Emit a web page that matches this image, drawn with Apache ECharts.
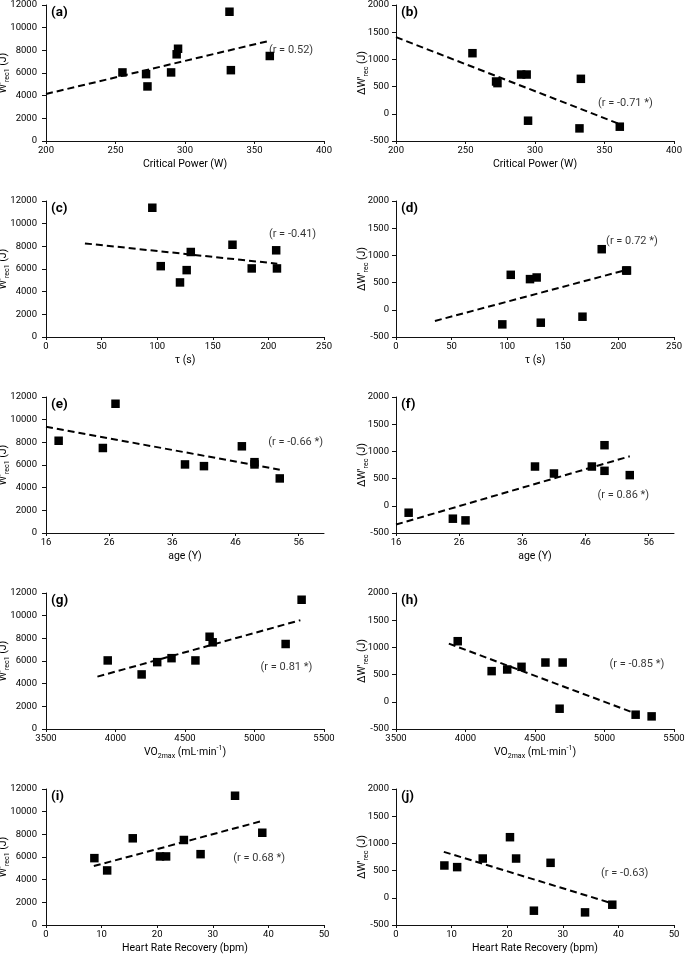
<!DOCTYPE html>
<html>
<head>
<meta charset="utf-8">
<script src="https://cdn.jsdelivr.net/npm/echarts@6/dist/echarts.min.js"></script>
<style>
  html, body { margin: 0; padding: 0; background: #fff; }
  #chart { width: 685px; height: 955px; }
</style>
</head>
<body>
<div id="chart"></div>
<script>
// same 9 subjects in every panel (order kept across arrays)
const criticalPower = [255, 272, 273, 290, 294, 295, 332, 333, 361];
const tau = [185, 126.5, 120.5, 207.7, 207, 167.7, 95.6, 103.2, 130.2];
const age = [49, 41, 53, 38, 47, 18, 27, 49, 25];
const vo2max = [3944, 4300, 4188, 4575, 4699, 4677, 5339, 4403, 5224];
const hrRecovery = [20.5, 8.7, 11, 21.6, 15.6, 38.9, 34, 27.8, 24.8];
const wRec1 = [6050, 5900, 4815, 6050, 7650, 8140, 11405, 6250, 7500];
const deltaWrec = [1114, 594, 564, 722, 722, -127, -268, 643, -237];

// dashed trend lines, end points
const trendA = [[200, 4150], [361, 8850]];
const trendB = [[200, 1410], [361, -190]];
const trendC = [[35, 8260], [208, 6470]];
const trendD = [[35, -205], [208, 738]];
const trendE = [[16, 9380], [53, 5580]];
const trendF = [[16, -345], [53, 910]];
const trendG = [[3870, 4620], [5330, 9600]];
const trendH = [[3880, 1070], [5240, -230]];
const trendI = [[8.6, 5200], [38.8, 9170]];
const trendJ = [[8.6, 845], [38.8, -100]];

const panelTags = ['(a)', '(b)', '(c)', '(d)', '(e)', '(f)', '(g)', '(h)', '(i)', '(j)'];
const rTexts = ['(r = 0.52)', '(r = -0.71 *)', '(r = -0.41)', '(r = 0.72 *)', '(r = -0.66 *)',
  '(r = 0.86 *)', '(r = 0.81 *)', '(r = -0.85 *)', '(r = 0.68 *)', '(r = -0.63)'];
// where each r text starts (data units of its panel)
const rSpots = [[360, 8040], [345, 200], [200, 9070], [188.5, 1268], [51.1, 7980],
  [47.8, 192], [5040, 5470], [5032, 683], [33.6, 5850], [36.8, 457]];

const ageTicks = [16, 26, 36, 46, 56];

const FONT = 'Roboto';
const rich = {
  t: { fontSize: 10.5, lineHeight: 15, fontFamily: FONT, color: '#000' },
  sub: { fontSize: 7, lineHeight: 7, verticalAlign: 'bottom', fontFamily: FONT, color: '#000' },
  sup: { fontSize: 7, lineHeight: 7, verticalAlign: 'top', fontFamily: FONT, color: '#000' }
};

const rows = [
  { name: '{t|Critical Power (W)}', min: 200, max: 400, interval: 50, x: criticalPower, trends: [trendA, trendB] },
  { name: '{t|τ (s)}', min: 0, max: 250, interval: 50, x: tau, trends: [trendC, trendD] },
  { name: '{t|age (Y)}', min: 16, max: 60, ticks: ageTicks, x: age, trends: [trendE, trendF] },
  { name: '{t|VO}{sub|2max}{t| (mL·min}{sup|-1}{t|)}', min: 3500, max: 5500, interval: 500, x: vo2max, trends: [trendG, trendH] },
  { name: '{t|Heart Rate Recovery (bpm)}', min: 0, max: 50, interval: 10, x: hrRecovery, trends: [trendI, trendJ] }
];
const cols = [
  { name: "{t|W'}{sub|rec1}{t| (J)}", min: 0, max: 12000, interval: 2000, y: wRec1, left: 46, gap: 35, margin: 9 },
  { name: "{t|ΔW'}{sub|rec}{t| (J)}", min: -500, max: 2000, interval: 500, y: deltaWrec, left: 396, gap: 26, margin: 7 }
];
const rowTop = [5, 201, 397, 593, 789];

const plain = v => String(v);

const grid = [], xAxis = [], yAxis = [], series = [], title = [];

rows.forEach((row, ri) => {
  cols.forEach((col, ci) => {
    const k = ri * 2 + ci;
    grid.push({ left: col.left, top: rowTop[ri], width: 278, height: 136, outerBoundsMode: 'none' });
    const xa = {
      type: 'value', gridIndex: k, min: row.min, max: row.max,
      name: row.name, nameLocation: 'middle', nameGap: 16, nameMoveOverlap: false,
      nameTextStyle: { rich: rich },
      axisLine: { onZero: false, lineStyle: { color: '#111', width: 1 } },
      axisTick: { show: true, length: 3, inside: false, lineStyle: { color: '#111' } },
      axisLabel: { fontFamily: FONT, fontSize: 9.5, color: '#000', margin: 5, formatter: plain },
      splitLine: { show: false }
    };
    if (row.interval) xa.interval = row.interval;
    if (row.ticks) {
      xa.axisLabel.customValues = row.ticks;
      xa.axisTick.customValues = row.ticks;
    }
    xAxis.push(xa);
    yAxis.push({
      type: 'value', gridIndex: k, min: col.min, max: col.max, interval: col.interval,
      name: col.name, nameLocation: 'middle', nameGap: col.gap, nameRotate: 90, nameMoveOverlap: false,
      nameTextStyle: { rich: rich },
      axisLine: { show: true, onZero: false, lineStyle: { color: '#111', width: 1 } },
      axisTick: { show: true, length: 4, lineStyle: { color: '#111' } },
      axisLabel: { fontFamily: FONT, fontSize: 9.5, color: '#000', margin: col.margin, formatter: plain },
      splitLine: { show: false }
    });
    series.push({
      type: 'line', xAxisIndex: k, yAxisIndex: k, data: row.trends[ci],
      symbol: 'none', silent: true, z: 2,
      lineStyle: { color: '#000', width: 2, type: [7, 4] }
    });
    series.push({
      type: 'scatter', xAxisIndex: k, yAxisIndex: k, symbol: 'rect', symbolSize: 8.5, z: 3,
      itemStyle: { color: '#000', opacity: 1 },
      data: row.x.map((v, i) => [v, col.y[i]])
    });
    series.push({
      type: 'scatter', xAxisIndex: k, yAxisIndex: k, symbolSize: 1, silent: true, z: 4,
      itemStyle: { color: 'rgba(0,0,0,0)' },
      label: {
        show: true, position: 'right', distance: 0, fontFamily: FONT, fontSize: 11, color: '#000',
        formatter: () => rTexts[k]
      },
      data: [rSpots[k]]
    });
    title.push({
      text: panelTags[k], left: col.left + 5, top: rowTop[ri] + 1, padding: 0,
      textStyle: { fontFamily: FONT, fontSize: 13.5, fontWeight: 'bold', color: '#000' }
    });
  });
});

const chart = echarts.init(document.getElementById('chart'), null, { renderer: 'canvas' });
chart.setOption({
  animation: false,
  backgroundColor: '#fff',
  title: title,
  grid: grid,
  xAxis: xAxis,
  yAxis: yAxis,
  series: series
});
</script>
</body>
</html>
